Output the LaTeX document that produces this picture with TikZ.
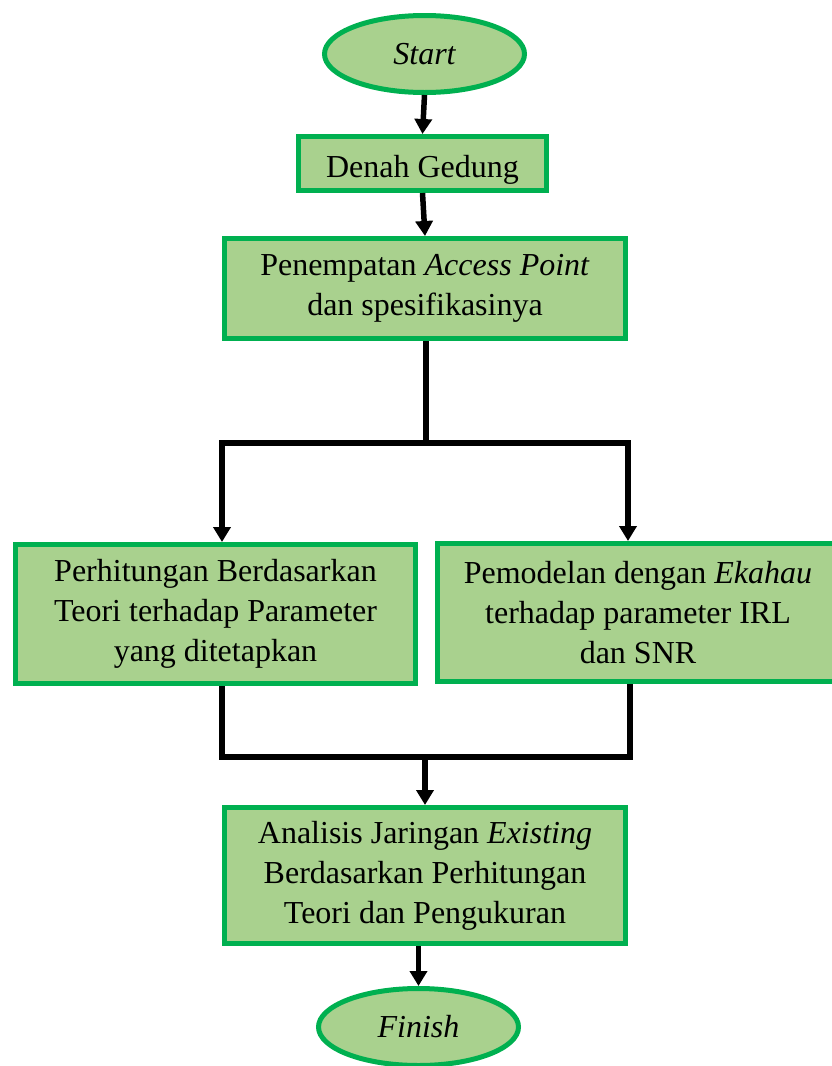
\documentclass[tikz,border=0pt]{standalone}
\usepackage{fontspec}
\setmainfont{Liberation Serif}
\usetikzlibrary{shapes.geometric,arrows.meta}
\definecolor{boxfill}{HTML}{A9D18E}
\definecolor{boxline}{HTML}{00B050}
\begin{document}
\begin{tikzpicture}[x=1pt,y=-1pt,
  every node/.style={font=\fontsize{32}{40}\selectfont, align=center, inner sep=0pt},
  procbox/.style={draw=boxline, fill=boxfill, line width=5pt, rectangle},
  termbox/.style={draw=boxline, fill=boxfill, line width=5pt, ellipse, minimum width=200pt, minimum height=77pt},
  conn/.style={line width=5.5pt, black},
  arr/.style={conn, -{Triangle[width=17pt,length=15pt]}}
]
\useasboundingbox (0,0) rectangle (832,1066);
\node[termbox] (start) at (424.5,54) {\itshape Start};
\node[procbox, minimum width=248pt, minimum height=54pt] (denah) at (422.5,163.5) {\smash{\raisebox{-14pt}{Denah Gedung}}};
\node[procbox, minimum width=401pt, minimum height=100pt] (pen) at (425,288.5) {Penempatan \textit{Access Point}\\dan spesifikasinya};
\node[procbox, minimum width=400pt, minimum height=139pt] (left) at (215.5,614) {Perhitungan Berdasarkan\\Teori terhadap Parameter\\yang ditetapkan};
\node[procbox, minimum width=401pt, minimum height=138pt] (right) at (638,612.5) {Pemodelan dengan \textit{Ekahau}\\terhadap parameter IRL\\dan SNR};
\node[procbox, minimum width=401pt, minimum height=136pt] (anal) at (425,875.5) {Analisis Jaringan \textit{Existing}\\Berdasarkan Perhitungan\\Teori dan Pengukuran};
\node[termbox] (finish) at (418.5,1027) {\itshape Finish};

\coordinate (split) at (426,443);
\coordinate (bl) at (222,443);
\coordinate (br) at (628,443);
\coordinate (jl) at (222,757);
\coordinate (jr) at (630,757);
\coordinate (join) at (425,757);

\draw[arr] (start.south) -- (denah.north);
\draw[arr] (denah.south) -- (pen.north);
\draw[conn] (pen.south -| split) -- (split);
\draw[conn, line cap=rect] (bl) -- (br);
\draw[arr] (bl) -- (bl |- left.north);
\draw[arr] (br) -- (br |- right.north);
\draw[conn] (jl |- left.south) -- (jl);
\draw[conn] (jr |- right.south) -- (jr);
\draw[conn, line cap=rect] (jl) -- (jr);
\draw[arr] (join) -- (join |- anal.north);
\draw[arr] (anal.south -| finish) -- (finish.north);
\end{tikzpicture}
\end{document}
